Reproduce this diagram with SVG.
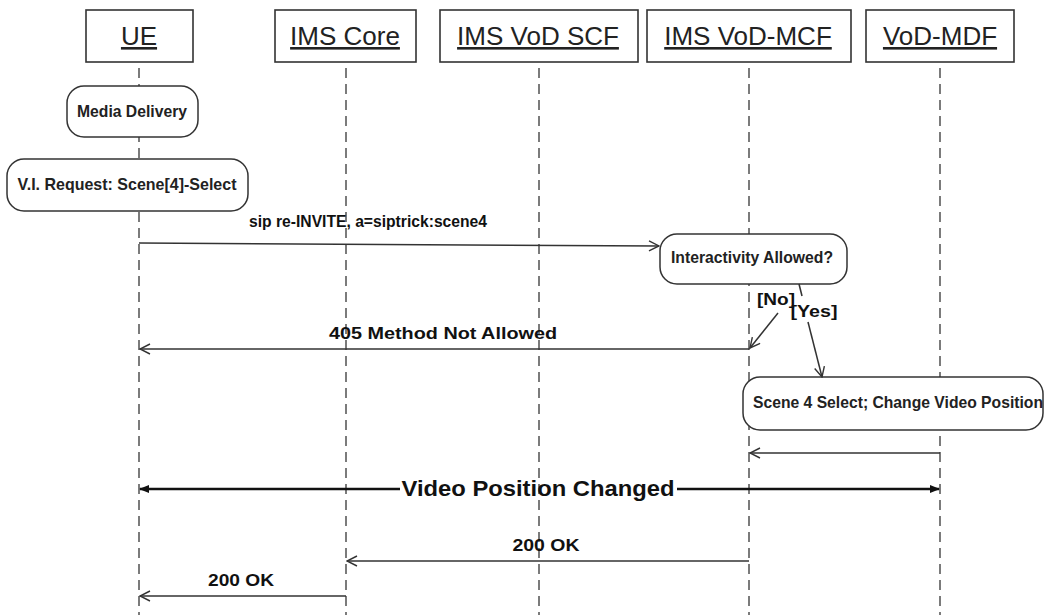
<svg xmlns="http://www.w3.org/2000/svg" width="1045" height="615" viewBox="0 0 1045 615">
<style>
.bg{fill:#fff}
.head{fill:#fff;stroke:#333;stroke-width:1.6}
.ht{font-family:"Liberation Sans",Arial,sans-serif;font-size:26px;fill:#222;text-anchor:middle;text-decoration:underline}
.life{stroke:#444;stroke-width:1.4;stroke-dasharray:10,6;fill:none}
.act{fill:#fff;stroke:#333;stroke-width:1.5}
.at{font-family:"Liberation Sans",Arial,sans-serif;font-weight:bold;font-size:15.7px;fill:#222;text-anchor:middle}
.msg{stroke:#333;stroke-width:1.5;fill:none}
.ml{font-family:"Liberation Sans",Arial,sans-serif;font-weight:bold;font-size:16px;fill:#111;text-anchor:middle}
.big{stroke:#111;stroke-width:2.5;fill:none}
.bt{font-family:"Liberation Sans",Arial,sans-serif;font-weight:bold;font-size:22px;fill:#111;text-anchor:middle}
</style>
<defs>
<marker id="open" viewBox="0 0 12 12" refX="11" refY="6" markerWidth="12" markerHeight="12" markerUnits="userSpaceOnUse" orient="auto">
<path d="M1,1 L11,6 L1,11" fill="none" stroke="#333" stroke-width="1.4"/>
</marker>
<marker id="solid" viewBox="0 0 10 10" refX="9" refY="5" markerWidth="10" markerHeight="10" markerUnits="userSpaceOnUse" orient="auto">
<path d="M0,1 L10,5 L0,9 Z" fill="#111"/>
</marker>
</defs>
<rect class="bg" x="0" y="0" width="1045" height="615"/>

<g id="lifelines">
<line class="life" x1="139" y1="68" x2="139" y2="615"/>
<line class="life" x1="346" y1="68" x2="346" y2="615"/>
<line class="life" x1="539" y1="68" x2="539" y2="615"/>
<line class="life" x1="749" y1="68" x2="749" y2="615"/>
<line class="life" x1="940" y1="68" x2="940" y2="615"/>
</g>

<g id="ue">
<rect class="head" x="86" y="10" width="107" height="52"/>
<text class="ht" x="139" y="45">UE</text>
</g>
<g id="ims-core">
<rect class="head" x="275" y="10" width="141" height="52"/>
<text class="ht" x="345" y="45">IMS Core</text>
</g>
<g id="ims-vod-scf">
<rect class="head" x="440" y="10" width="198" height="52"/>
<text class="ht" x="538" y="45">IMS VoD SCF</text>
</g>
<g id="ims-vod-mcf">
<rect class="head" x="647" y="10" width="204" height="52"/>
<text class="ht" x="748" y="45">IMS VoD-MCF</text>
</g>
<g id="vod-mdf">
<rect class="head" x="866" y="10" width="148" height="52"/>
<text class="ht" x="940" y="45">VoD-MDF</text>
</g>

<g id="media-delivery">
<rect class="act" x="67" y="86" width="131" height="51" rx="17"/>
<text class="at" x="132" y="117" textLength="110" lengthAdjust="spacingAndGlyphs">Media Delivery</text>
</g>
<g id="vi-request">
<rect class="act" x="7" y="159" width="241" height="52" rx="17"/>
<text class="at" x="127" y="190" textLength="219" lengthAdjust="spacingAndGlyphs">V.I. Request: Scene[4]-Select</text>
</g>
<g id="interactivity">
<rect class="act" x="660" y="234" width="187" height="50" rx="17"/>
<text class="at" x="752" y="263" textLength="162" lengthAdjust="spacingAndGlyphs">Interactivity Allowed?</text>
</g>
<g id="scene4">
<rect class="act" x="743" y="377" width="300" height="53" rx="17"/>
<text class="at" x="898" y="408" textLength="290" lengthAdjust="spacingAndGlyphs">Scene 4 Select; Change Video Position</text>
</g>

<g id="connectors">
<line class="msg" x1="139" y1="243" x2="659" y2="246" marker-end="url(#open)"/>
<text class="ml" x="368" y="227" textLength="238" lengthAdjust="spacingAndGlyphs">sip re-INVITE, a=siptrick:scene4</text>

<line class="msg" x1="778" y1="313" x2="750" y2="348" marker-end="url(#open)"/>
<text class="ml" x="776" y="305" textLength="38" lengthAdjust="spacingAndGlyphs">[No]</text>
<line class="msg" x1="799" y1="284" x2="802" y2="296"/>
<line class="msg" x1="808" y1="322" x2="822" y2="377" marker-end="url(#open)"/>
<text class="ml" x="814" y="317" textLength="47" lengthAdjust="spacingAndGlyphs">[Yes]</text>

<line class="msg" x1="749" y1="349" x2="140" y2="349" marker-end="url(#open)"/>
<text class="ml" x="443" y="339" textLength="228" lengthAdjust="spacingAndGlyphs">405 Method Not Allowed</text>

<line class="msg" x1="940" y1="453" x2="750" y2="453" marker-end="url(#open)"/>

<line class="big" x1="400" y1="489" x2="140" y2="489" marker-end="url(#solid)"/>
<line class="big" x1="677" y1="489" x2="939" y2="489" marker-end="url(#solid)"/>
<text class="bt" x="538" y="496" textLength="273" lengthAdjust="spacingAndGlyphs">Video Position Changed</text>

<line class="msg" x1="749" y1="561" x2="347" y2="561" marker-end="url(#open)"/>
<text class="ml" x="546" y="551" textLength="67" lengthAdjust="spacingAndGlyphs">200 OK</text>

<line class="msg" x1="346" y1="596" x2="140" y2="596" marker-end="url(#open)"/>
<text class="ml" x="241" y="586" textLength="66" lengthAdjust="spacingAndGlyphs">200 OK</text>
</g>
</svg>
